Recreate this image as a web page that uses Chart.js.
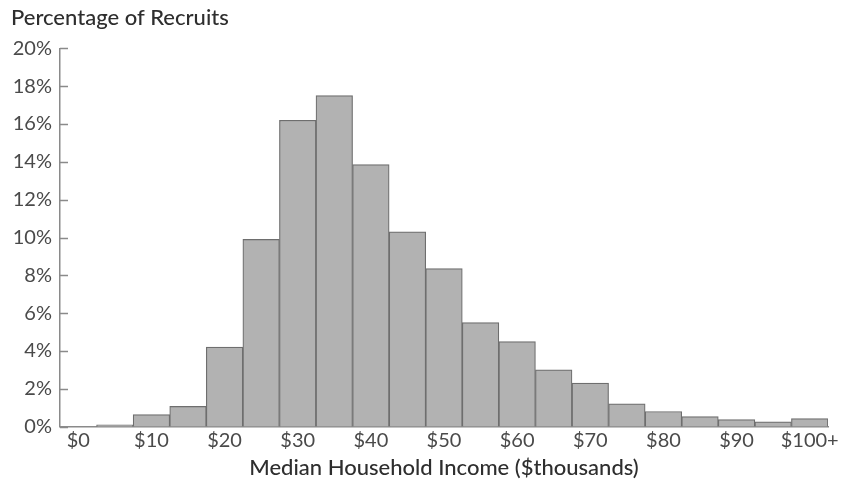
<!DOCTYPE html>
<html>
<head>
<meta charset="utf-8">
<script src="https://cdn.jsdelivr.net/npm/chart.js@4/dist/chart.umd.min.js"></script>
<style>
  html, body { margin: 0; padding: 0; background: #ffffff; }
  #wrap { width: 851px; height: 481px; position: relative; }
</style>
</head>
<body>
<div id="wrap"><canvas id="c"></canvas></div>
<script>
// Bin centres ($ thousands); last bin is "$100+"
const incomeBins = [5, 10, 15, 20, 25, 30, 35, 40, 45, 50, 55, 60, 65, 70, 75, 80, 85, 90, 95, 100];
// Percentage of recruits in each bin
const recruitPct = [0.1, 0.63, 1.07, 4.2, 9.9, 16.2, 17.5, 13.85, 10.3, 8.35, 5.5, 4.5, 3.0, 2.3, 1.2, 0.8, 0.53, 0.37, 0.25, 0.42];
// Axis tick values
const xTickValues = [0, 10, 20, 30, 40, 50, 60, 70, 80, 90, 100];
const yTickValues = [0, 2, 4, 6, 8, 10, 12, 14, 16, 18, 20];

const FONT = "Lato, 'Open Sans', 'DejaVu Sans', sans-serif";
const TEXT = '#4a4a4a';
const AXIS = '#8a8a8a';

const innerTicks = {
  id: 'innerTicks',
  afterDatasetsDraw(chart) {
    const y = chart.scales.y;
    const ctx = chart.ctx;
    ctx.save();
    ctx.strokeStyle = AXIS;
    ctx.lineWidth = 1.5;
    yTickValues.forEach(v => {
      const py = Math.round(y.getPixelForValue(v)) + 0.5;
      ctx.beginPath();
      ctx.moveTo(y.right, py);
      ctx.lineTo(y.right + 8, py);
      ctx.stroke();
    });
    ctx.restore();
  }
};

new Chart(document.getElementById('c'), {
  type: 'bar',
  data: {
    datasets: [{
      data: incomeBins.map((x, i) => ({ x: x, y: recruitPct[i] })),
      backgroundColor: '#b2b2b2',
      borderColor: '#6e6e6e',
      borderWidth: 1.2,
      barPercentage: 1.0,
      categoryPercentage: 1.0
    }]
  },
  options: {
    responsive: true,
    maintainAspectRatio: false,
    animation: false,
    layout: { padding: { left: 11, right: 23, top: 0, bottom: 0 } },
    plugins: {
      legend: { display: false },
      tooltip: { enabled: false },
      title: {
        display: true,
        text: 'Percentage of Recruits',
        align: 'start',
        color: '#2e2e2e',
        font: { family: FONT, size: 22, weight: '500' },
        padding: { top: 5, bottom: 17 }
      }
    },
    scales: {
      x: {
        type: 'linear',
        offset: false,
        min: -2.5,
        max: 102.5,
        afterBuildTicks(scale) { scale.ticks = xTickValues.map(v => ({ value: v })); },
        ticks: {
          color: TEXT,
          font: { family: FONT, size: 20 },
          padding: 2,
          maxRotation: 0,
          autoSkip: false,
          callback: v => v === 100 ? '$100+' : '$' + v
        },
        grid: { display: false, drawTicks: false, offset: false },
        border: { display: true, color: AXIS, width: 1.5 },
        title: {
          display: true,
          text: 'Median Household Income ($thousands)',
          color: '#2e2e2e',
          font: { family: FONT, size: 22, weight: '500' },
          padding: { top: 0, bottom: 0 }
        }
      },
      y: {
        min: 0,
        max: 20,
        afterBuildTicks(scale) { scale.ticks = yTickValues.map(v => ({ value: v })); },
        afterFit(scale) { scale.width = 49; },
        ticks: {
          color: TEXT,
          font: { family: FONT, size: 20 },
          padding: 8,
          callback: v => v + '%'
        },
        grid: { display: false, drawTicks: false },
        border: { display: true, color: AXIS, width: 1.5 }
      }
    }
  },
  plugins: [innerTicks]
});
</script>
</body>
</html>
